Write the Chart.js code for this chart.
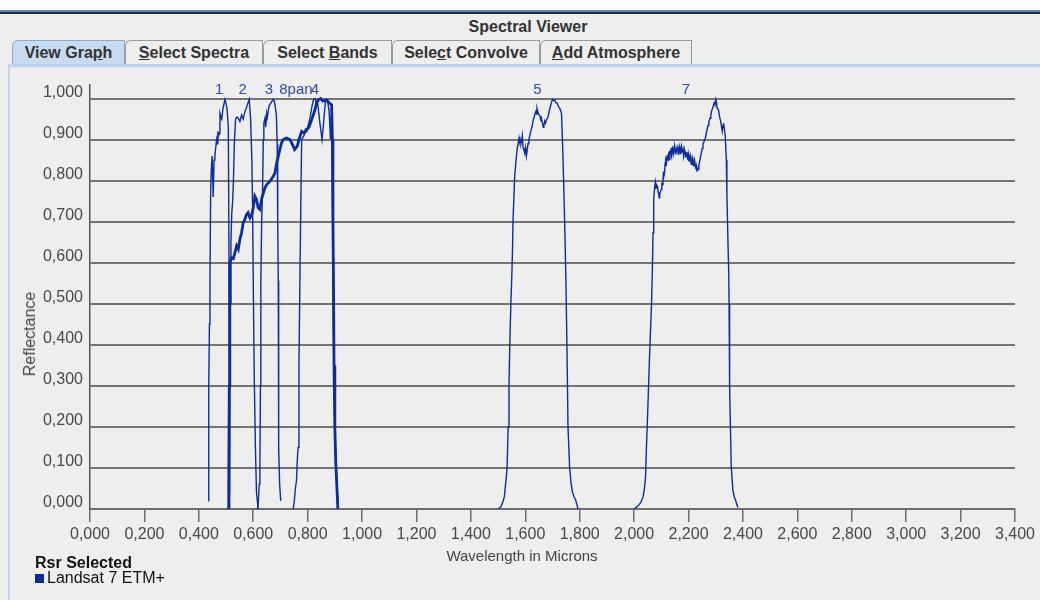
<!DOCTYPE html>
<html>
<head>
<meta charset="utf-8">
<title>Spectral Viewer</title>
<script src="https://cdn.jsdelivr.net/npm/chart.js@4.4.1/dist/chart.umd.min.js"></script>
<style>
  body {
    margin: 0;
    width: 1040px;
    height: 600px;
    overflow: hidden;
    background: #eeeeee;
    font-family: "Liberation Sans", Arial, sans-serif;
    position: relative;
  }
  .top-white { position: absolute; left: 0; top: 0; width: 1040px; height: 10px; background: #ffffff; }
  .top-blue { position: absolute; left: 0; top: 10px; width: 1040px; height: 2px; background: #5b84c9; }
  .top-dark { position: absolute; left: 0; top: 12px; width: 1040px; height: 2px; background: #2b2b2b; }
  .viewer-title {
    position: absolute; left: 528px; top: 27px;
    transform: translate(-50%, -50%);
    font-weight: bold; font-size: 16px; color: #333;
  }
  .tab {
    position: absolute; top: 40px; height: 25px;
    box-sizing: border-box;
    border: 1px solid #9a9a9a; border-bottom: none;
    border-top-left-radius: 6px;
    background: #eeeeee;
    font-weight: bold; font-size: 16px; color: #333;
    text-align: center; line-height: 24px;
  }
  .tab.active { background: #c8dcf1; border-color: #8fa9cb; }
  .tab-strip { position: absolute; left: 8px; top: 64px; width: 1032px; height: 3px; background: #bcd2ea; }
  .tab-strip2 { position: absolute; left: 8px; top: 67px; width: 1032px; height: 1px; background: #dde8f4; }
  .left-border { position: absolute; left: 8px; top: 64px; width: 2px; height: 536px; background: #c1d5ec; }
  #rsrChart { position: absolute; left: 10px; top: 68px; }
  .y-title {
    position: absolute; left: 30px; top: 334px;
    transform: translate(-50%, -50%) rotate(-90deg);
    font-size: 16px; color: #444; white-space: nowrap;
  }
  .x-title {
    position: absolute; left: 522px; top: 555px;
    transform: translate(-50%, -50%);
    font-size: 15px; color: #444; white-space: nowrap;
  }
  .legend-title {
    position: absolute; left: 35px; top: 554px; line-height: 18px;
    font-weight: bold; font-size: 16px; color: #111;
  }
  .legend-item {
    position: absolute; left: 35px; top: 569px; line-height: 18px;
    font-size: 16px; color: #111;
  }
  .swatch {
    display: inline-block; width: 9px; height: 9px;
    background: #0b2a94; margin-right: 3px; vertical-align: 0px;
  }
</style>
</head>
<body>
<div class="top-white"></div>
<div class="top-blue"></div>
<div class="top-dark"></div>
<div class="viewer-title">Spectral Viewer</div>

<div class="tab active" style="left:12px;width:113px;">View Gra<u>p</u>h</div>
<div class="tab" style="left:125px;width:138px;"><u>S</u>elect Spectra</div>
<div class="tab" style="left:263px;width:129px;">Select <u>B</u>ands</div>
<div class="tab" style="left:392px;width:148px;">Sele<u>c</u>t Convolve</div>
<div class="tab" style="left:540px;width:152px;"><u>A</u>dd Atmosphere</div>
<div class="tab-strip"></div>
<div class="tab-strip2"></div>
<div class="left-border"></div>

<canvas id="rsrChart" width="1030" height="532"></canvas>
<div class="y-title">Reflectance</div>
<div class="x-title">Wavelength in Microns</div>
<div class="legend-title">Rsr Selected</div>
<div class="legend-item"><span class="swatch"></span>Landsat 7 ETM+</div>

<script>
// Relative spectral response of the Landsat 7 ETM+ bands, [wavelength µm, response]
const band1 = [
  [0.4346, 0.02], [0.436, 0.08], [0.437, 0.3], [0.439, 0.45], [0.441, 0.56],
  [0.4436, 0.78], [0.446, 0.83], [0.449, 0.86], [0.4527, 0.76], [0.456, 0.85],
  [0.459, 0.86], [0.462, 0.88], [0.4655, 0.9], [0.468, 0.89], [0.47, 0.92],
  [0.473, 0.91], [0.475, 0.915], [0.4776, 0.964], [0.481, 0.955], [0.484, 0.95],
  [0.4886, 0.975], [0.492, 0.985], [0.496, 0.998], [0.4996, 0.99], [0.502, 0.98],
  [0.504, 0.973], [0.5085, 0.93], [0.511, 0.6], [0.5118, 0.4], [0.513, 0.1], [0.514, 0.0]
];
const band2 = [
  [0.509, 0.0], [0.511, 0.04], [0.513, 0.3], [0.515, 0.5], [0.518, 0.65],
  [0.521, 0.72], [0.524, 0.746], [0.527, 0.795], [0.531, 0.9], [0.5353, 0.95],
  [0.54, 0.955], [0.5448, 0.952], [0.551, 0.944], [0.5573, 0.96], [0.5632, 0.95],
  [0.5694, 0.968], [0.574, 0.975], [0.5779, 0.984], [0.5852, 0.998], [0.5904, 0.95],
  [0.5951, 0.846], [0.5977, 0.73], [0.6, 0.556], [0.604, 0.31], [0.608, 0.15],
  [0.612, 0.04], [0.618, 0.0]
];
const band3 = [
  [0.616, 0.0], [0.619, 0.02], [0.622, 0.06], [0.6245, 0.1], [0.6265, 0.3],
  [0.628, 0.556], [0.631, 0.7], [0.6345, 0.786], [0.637, 0.9], [0.639, 0.94],
  [0.643, 0.952], [0.646, 0.93], [0.6496, 0.964], [0.652, 0.955], [0.6555, 0.972],
  [0.6595, 0.984], [0.6675, 0.992], [0.6735, 0.998], [0.677, 0.995], [0.681, 0.98],
  [0.685, 0.96], [0.688, 0.89], [0.69, 0.7], [0.692, 0.556], [0.693, 0.35],
  [0.694, 0.15], [0.697, 0.06], [0.701, 0.02]
];
const band4 = [
  [0.747, 0.0], [0.751, 0.02], [0.755, 0.05], [0.759, 0.07], [0.762, 0.12],
  [0.765, 0.15], [0.768, 0.35], [0.7715, 0.556], [0.775, 0.75], [0.778, 0.9],
  [0.782, 0.905], [0.787, 0.91], [0.792, 0.925], [0.797, 0.92], [0.802, 0.935],
  [0.808, 0.95], [0.812, 0.966], [0.817, 0.985], [0.822, 0.998], [0.827, 1.0],
  [0.832, 0.99], [0.836, 0.995], [0.84, 0.97], [0.845, 0.94], [0.849, 0.92],
  [0.853, 0.9], [0.857, 0.93], [0.861, 0.96], [0.865, 0.99], [0.869, 0.995],
  [0.874, 0.99], [0.879, 0.97], [0.884, 0.9], [0.887, 0.96], [0.889, 0.94],
  [0.891, 0.8], [0.893, 0.556], [0.896, 0.35], [0.9, 0.18], [0.904, 0.12],
  [0.908, 0.05], [0.912, 0.02]
];
const band8pan = [
  [0.508, 0.0], [0.51, 0.05], [0.512, 0.3], [0.514, 0.6], [0.5205, 0.612],
  [0.527, 0.61], [0.533, 0.625], [0.539, 0.641], [0.545, 0.633], [0.551, 0.657],
  [0.557, 0.673], [0.563, 0.697], [0.569, 0.705], [0.575, 0.717], [0.581, 0.722],
  [0.588, 0.709], [0.594, 0.715], [0.6, 0.734], [0.606, 0.762], [0.612, 0.754],
  [0.618, 0.734], [0.6245, 0.73], [0.631, 0.755], [0.637, 0.77], [0.643, 0.782],
  [0.649, 0.79], [0.661, 0.798], [0.673, 0.81], [0.68, 0.819], [0.686, 0.843],
  [0.692, 0.859], [0.698, 0.876], [0.704, 0.892], [0.71, 0.9], [0.722, 0.904],
  [0.735, 0.9], [0.741, 0.892], [0.747, 0.884], [0.752, 0.876], [0.757, 0.88],
  [0.762, 0.884], [0.768, 0.9], [0.778, 0.92], [0.787, 0.916], [0.796, 0.924],
  [0.805, 0.93], [0.8145, 0.948], [0.8266, 0.972], [0.833, 0.99], [0.84, 0.997],
  [0.848, 1.0], [0.856, 0.994], [0.8696, 0.997], [0.878, 0.99], [0.888, 0.985],
  [0.891, 0.9], [0.893, 0.7], [0.895, 0.556], [0.897, 0.35], [0.9, 0.2],
  [0.903, 0.12], [0.907, 0.06], [0.911, 0.0]
];
const band5 = [
  [1.5, 0.0], [1.51, 0.005], [1.518, 0.018], [1.523, 0.03], [1.528, 0.063],
  [1.533, 0.1], [1.537, 0.2], [1.54, 0.297], [1.543, 0.4], [1.547, 0.5],
  [1.551, 0.58], [1.553, 0.633], [1.555, 0.706], [1.561, 0.81], [1.566, 0.85],
  [1.57, 0.876], [1.577, 0.904], [1.579, 0.895], [1.581, 0.9], [1.584, 0.89],
  [1.586, 0.896], [1.589, 0.91], [1.592, 0.88], [1.595, 0.875], [1.598, 0.867],
  [1.601, 0.88], [1.604, 0.86], [1.607, 0.875], [1.61, 0.89], [1.613, 0.9],
  [1.616, 0.908], [1.62, 0.92], [1.623, 0.928], [1.626, 0.935], [1.629, 0.948],
  [1.633, 0.955], [1.636, 0.965], [1.639, 0.972], [1.641, 0.962], [1.643, 0.976],
  [1.647, 0.965], [1.651, 0.96], [1.655, 0.955], [1.657, 0.945], [1.659, 0.952],
  [1.663, 0.94], [1.666, 0.93], [1.668, 0.932], [1.671, 0.945], [1.674, 0.94],
  [1.679, 0.95], [1.684, 0.956], [1.688, 0.97], [1.692, 0.98], [1.696, 0.99],
  [1.7, 0.998], [1.704, 0.995], [1.708, 0.997], [1.712, 0.99], [1.717, 0.989],
  [1.722, 0.98], [1.727, 0.976], [1.733, 0.964], [1.737, 0.89], [1.741, 0.795],
  [1.745, 0.69], [1.749, 0.568], [1.753, 0.4], [1.757, 0.2], [1.763, 0.1],
  [1.768, 0.065], [1.773, 0.042], [1.779, 0.03], [1.785, 0.022], [1.79, 0.01], [1.794, 0.0]
];
const band7 = [
  [1.9985, 0.0], [2.008, 0.004], [2.018, 0.01], [2.026, 0.018], [2.033, 0.03],
  [2.038, 0.05], [2.042, 0.078], [2.045, 0.143], [2.051, 0.257], [2.057, 0.378],
  [2.064, 0.5], [2.067, 0.58], [2.0695, 0.673], [2.072, 0.754], [2.075, 0.78],
  [2.078, 0.795], [2.08, 0.78], [2.082, 0.79], [2.086, 0.786], [2.088, 0.772],
  [2.09, 0.77], [2.092, 0.758], [2.094, 0.766], [2.097, 0.775], [2.1, 0.778],
  [2.102, 0.795], [2.103, 0.79], [2.106, 0.8], [2.108, 0.822], [2.109, 0.81],
  [2.112, 0.819], [2.114, 0.845], [2.115, 0.835], [2.117, 0.85], [2.119, 0.843],
  [2.121, 0.862], [2.122, 0.85], [2.125, 0.86], [2.126, 0.848], [2.128, 0.855],
  [2.13, 0.872], [2.131, 0.851], [2.133, 0.874], [2.134, 0.865], [2.136, 0.88],
  [2.137, 0.871], [2.139, 0.862], [2.14, 0.868], [2.142, 0.884], [2.143, 0.879],
  [2.145, 0.866], [2.147, 0.872], [2.149, 0.884], [2.151, 0.878], [2.153, 0.864],
  [2.155, 0.871], [2.158, 0.882], [2.16, 0.876], [2.162, 0.865], [2.164, 0.87],
  [2.166, 0.884], [2.168, 0.879], [2.17, 0.866], [2.172, 0.873], [2.174, 0.884],
  [2.176, 0.877], [2.178, 0.868], [2.18, 0.875], [2.182, 0.86], [2.184, 0.866],
  [2.186, 0.874], [2.188, 0.869], [2.19, 0.856], [2.192, 0.863], [2.194, 0.87],
  [2.196, 0.86], [2.198, 0.85], [2.2, 0.862], [2.202, 0.848], [2.204, 0.855],
  [2.206, 0.862], [2.208, 0.852], [2.21, 0.84], [2.212, 0.848], [2.214, 0.855],
  [2.216, 0.847], [2.218, 0.836], [2.22, 0.842], [2.222, 0.85], [2.225, 0.838],
  [2.227, 0.828], [2.229, 0.835], [2.231, 0.822], [2.232, 0.83], [2.235, 0.827],
  [2.238, 0.838], [2.241, 0.847], [2.244, 0.858], [2.247, 0.867], [2.25, 0.878],
  [2.253, 0.89], [2.257, 0.895], [2.262, 0.904], [2.265, 0.915], [2.268, 0.924],
  [2.272, 0.935], [2.275, 0.944], [2.279, 0.952], [2.282, 0.96], [2.285, 0.97],
  [2.288, 0.976], [2.291, 0.982], [2.294, 0.989], [2.297, 0.985], [2.3, 0.998],
  [2.303, 0.99], [2.305, 0.976], [2.31, 0.973], [2.314, 0.956], [2.318, 0.945],
  [2.321, 0.932], [2.324, 0.92], [2.327, 0.935], [2.329, 0.94], [2.332, 0.925],
  [2.335, 0.908], [2.339, 0.851], [2.341, 0.77], [2.345, 0.649], [2.348, 0.568],
  [2.349, 0.5], [2.351, 0.297], [2.357, 0.103], [2.363, 0.046], [2.368, 0.03],
  [2.373, 0.022], [2.378, 0.01], [2.382, 0.004]
];

// band name labels shown above the curves, and where they sit on the wavelength axis
const bandNames = ["1", "2", "3", "8pan", "4", "5", "7"];
const bandLabelWl = [0.475, 0.561, 0.658, 0.757, 0.827, 1.645, 2.19];

const xTickValues = [0, 0.2, 0.4, 0.6, 0.8, 1.0, 1.2, 1.4, 1.6, 1.8, 2.0, 2.2, 2.4, 2.6, 2.8, 3.0, 3.2, 3.4];
const yTickValues = [0, 0.1, 0.2, 0.3, 0.4, 0.5, 0.6, 0.7, 0.8, 0.9, 1.0];

const lineColor = "#0d2c9e";

function toPoints(band) {
  return band.map((p) => ({ x: p[0], y: p[1] }));
}

function bandDataset(band, width) {
  return {
    label: "Landsat 7 ETM+",
    data: toPoints(band),
    borderColor: lineColor,
    backgroundColor: lineColor,
    borderWidth: width,
    pointRadius: 0,
    tension: 0,
    fill: false,
  };
}

function formatTick(v) {
  return v.toFixed(3).replace(".", ",");
}

// draws the band numbers along the top of the plot
const bandLabels = {
  id: "bandLabels",
  afterDatasetsDraw(chart) {
    const ctx = chart.ctx;
    const x = chart.scales.x;
    const y = chart.scales.y;
    ctx.save();
    ctx.font = "15px 'Liberation Sans', Arial, sans-serif";
    ctx.fillStyle = "#2f4cb0";
    ctx.textAlign = "center";
    ctx.textBaseline = "middle";
    bandNames.forEach((name, i) => {
      ctx.fillText(name, x.getPixelForValue(bandLabelWl[i]), y.getPixelForValue(1) - 9);
    });
    ctx.restore();
  },
};

Chart.defaults.font.family = "'Liberation Sans', Arial, sans-serif";
Chart.defaults.font.size = 16;
Chart.defaults.color = "#484848";

const ctx = document.getElementById("rsrChart").getContext("2d");
const rsrChart = new Chart(ctx, {
  type: "line",
  data: {
    datasets: [
      bandDataset(band1, 1.4),
      bandDataset(band2, 1.4),
      bandDataset(band3, 1.4),
      bandDataset(band4, 1.4),
      bandDataset(band5, 1.4),
      bandDataset(band7, 1.4),
      bandDataset(band8pan, 2.8),
    ],
  },
  options: {
    responsive: false,
    animation: false,
    devicePixelRatio: 1,
    layout: {
      padding: { top: 15, right: 25, bottom: 0, left: 0 },
    },
    plugins: {
      legend: { display: false },
      tooltip: { enabled: false },
    },
    scales: {
      x: {
        type: "linear",
        min: 0,
        max: 3.4,
        afterBuildTicks: (axis) => {
          axis.ticks = xTickValues.map((v) => ({ value: v }));
        },
        afterFit: (axis) => {
          axis.height = 91;
        },
        ticks: {
          autoSkip: false,
          maxRotation: 0,
          padding: 3,
          callback: (v) => formatTick(v),
        },
        grid: {
          drawOnChartArea: false,
          drawTicks: true,
          tickLength: 13,
          color: "#6e6e6e",
          lineWidth: 1.5,
        },
        border: { color: "#6e6e6e", width: 2 },
      },
      y: {
        min: 0,
        max: 1.034,
        afterBuildTicks: (axis) => {
          axis.ticks = yTickValues.map((v) => ({ value: v }));
        },
        afterFit: (axis) => {
          axis.width = 80;
        },
        ticks: {
          padding: 7,
          labelOffset: -6,
          callback: (v) => formatTick(v),
        },
        grid: {
          drawTicks: false,
          color: "#747474",
          lineWidth: 2,
        },
        border: { color: "#555555", width: 1.5 },
      },
    },
  },
  plugins: [bandLabels],
});
</script>
</body>
</html>
